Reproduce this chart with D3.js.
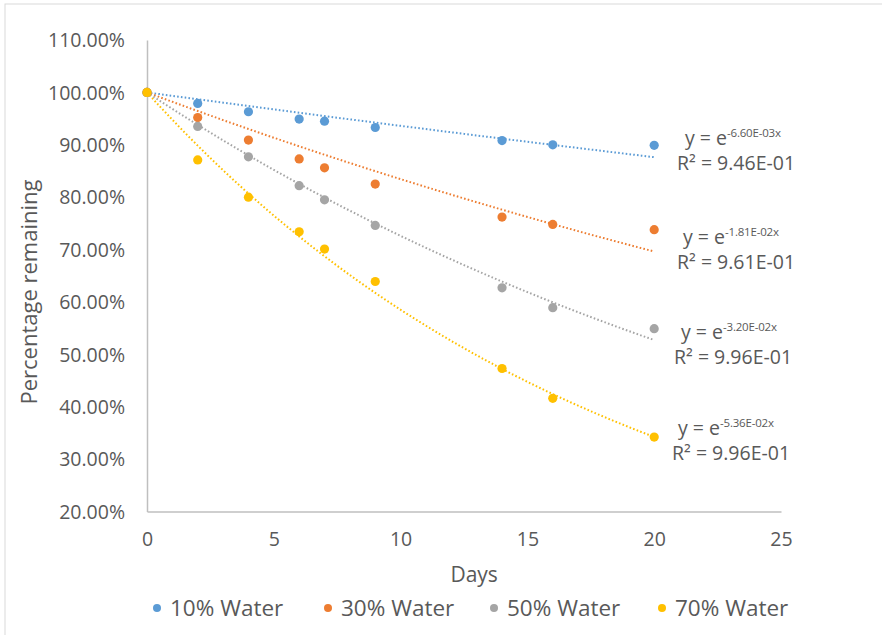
<!DOCTYPE html>
<html><head><meta charset="utf-8">
<script src="https://cdn.jsdelivr.net/npm/d3@7"></script>
<style>body{margin:0;background:#fff}svg{display:block}</style>
</head><body>
<script>
const days = [0, 2, 4, 6, 7, 9, 14, 16, 20];
const seriesNames = ["10% Water", "30% Water", "50% Water", "70% Water"];
const seriesColors = ["#5B9BD5", "#ED7D31", "#A5A5A5", "#FFC000"];
const water10 = [100, 97.9, 96.3, 94.9, 94.5, 93.3, 90.8, 90.0, 89.9];
const water30 = [100, 95.2, 90.9, 87.3, 85.6, 82.5, 76.2, 74.8, 73.8];
const water50 = [100, 93.5, 87.7, 82.2, 79.5, 74.6, 62.7, 58.9, 54.9];
const water70 = [100, 87.1, 80.0, 73.4, 70.1, 63.9, 47.3, 41.6, 34.2];
const trendK = [-6.60e-3, -1.81e-2, -3.20e-2, -5.36e-2];
const trendKLabels = ["-6.60E-03x", "-1.81E-02x", "-3.20E-02x", "-5.36E-02x"];
const r2Labels = ["9.46E-01", "9.61E-01", "9.96E-01", "9.96E-01"];
const xTicks = [0, 5, 10, 15, 20, 25];
const yTicks = [20, 30, 40, 50, 60, 70, 80, 90, 100, 110];
const allValues = [water10, water30, water50, water70];

const W = 882, H = 635;
const font = "'Open Sans', sans-serif";
const textCol = "#595959";
const svg = d3.select("body").append("svg").attr("width", W).attr("height", H);

// chart frame
svg.append("rect").attr("x", 5).attr("y", 4).attr("width", W + 10).attr("height", H + 10)
  .attr("fill", "#fff").attr("stroke", "#d9d9d9").attr("stroke-width", 1);

const x = d3.scaleLinear().domain([0, 25]).range([147, 781]);
const y = d3.scaleLinear().domain([20, 110]).range([511.5, 40]);

// axes
const xAxis = svg.append("g").attr("transform", `translate(0,${y(20)})`)
  .call(d3.axisBottom(x).tickValues(xTicks).tickSize(0).tickPadding(21).tickFormat(d3.format("d")));
const yAxis = svg.append("g").attr("transform", `translate(${x(0)},0)`)
  .call(d3.axisLeft(y).tickValues(yTicks).tickSize(0).tickPadding(22).tickFormat(d => d.toFixed(2) + "%"));
[xAxis, yAxis].forEach(g => {
  g.select(".domain").attr("stroke", "#bfbfbf").attr("stroke-width", 1.5);
  g.selectAll("text").attr("fill", textCol).attr("font-family", font).attr("font-size", 19.5);
});
yAxis.selectAll("text").attr("dy", "0.35em");

// axis titles
svg.append("text").attr("x", x(12.9)).attr("y", 582).attr("text-anchor", "middle")
  .attr("font-family", font).attr("font-size", 21).attr("fill", textCol).text("Days");
svg.append("text").attr("transform", `translate(37,292) rotate(-90)`).attr("text-anchor", "middle")
  .attr("font-family", font).attr("font-size", 22).attr("fill", textCol).text("Percentage remaining");

// trendlines
const line = d3.line().x(d => x(d[0])).y(d => y(d[1]));
const samples = d3.range(0, 20.001, 0.25);
trendK.forEach((k, i) => {
  svg.append("path").datum(samples.map(t => [t, 100 * Math.exp(k * t)]))
    .attr("d", line).attr("fill", "none").attr("stroke", seriesColors[i])
    .attr("stroke-width", 2).attr("stroke-dasharray", "1.6,2.2");
});

// points
allValues.forEach((vals, i) => {
  svg.append("g").selectAll("circle").data(vals).join("circle")
    .attr("cx", (d, j) => x(days[j])).attr("cy", d => y(d)).attr("r", 4.6)
    .attr("fill", seriesColors[i]);
});

// equation labels (one text element per trendline label, two lines)
const eqPos = [[685, 145, 677, 170], [683, 243.5, 677, 268.5], [681, 338.5, 674, 363.5], [678, 435, 672, 460]];
eqPos.forEach((p, i) => {
  const t = svg.append("text").attr("font-family", font)
    .attr("font-size", 19.5).attr("fill", textCol);
  t.append("tspan").attr("x", p[0]).attr("y", p[1]).text("y = e");
  t.append("tspan").attr("dy", -8).attr("font-size", 11.5).attr("letter-spacing", -0.2).text(trendKLabels[i]);
  t.append("tspan").attr("x", p[2]).attr("y", p[3]).text("R² = " + r2Labels[i]);
});

// legend
const legX = [157, 328, 494, 662];
seriesNames.forEach((n, i) => {
  svg.append("circle").attr("cx", legX[i]).attr("cy", 608).attr("r", 4).attr("fill", seriesColors[i]);
  svg.append("text").attr("x", legX[i] + 13).attr("y", 616).attr("font-family", font)
    .attr("font-size", 22.5).attr("fill", textCol).text(n);
});
</script>
</body></html>
